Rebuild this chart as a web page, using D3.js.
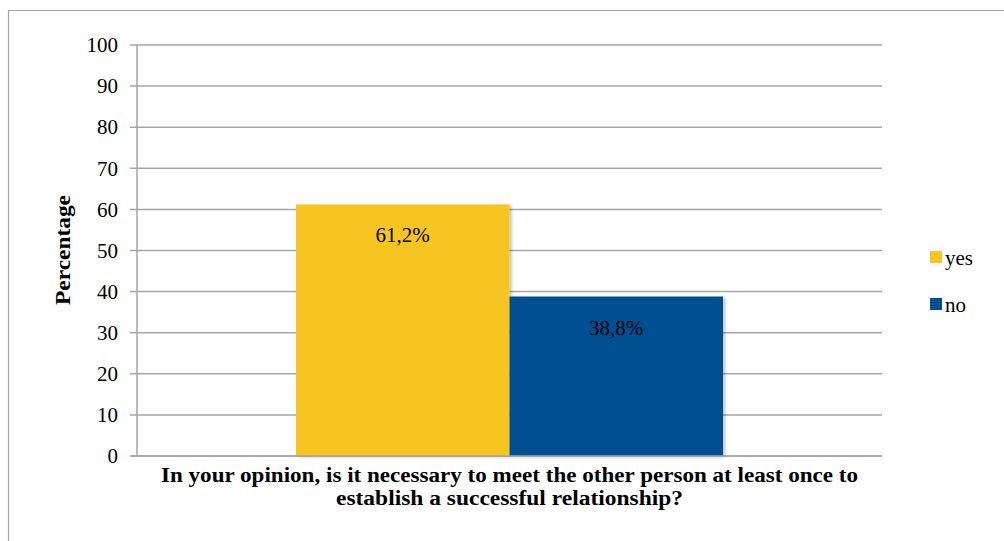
<!DOCTYPE html>
<html><head><meta charset="utf-8">
<script src="https://cdn.jsdelivr.net/npm/d3@7"></script>
<style>body{margin:0;background:#fff;}svg{display:block;}</style>
</head><body>
<svg id="c" width="1004" height="541"></svg>
<script>
const categories = ["In your opinion, is it necessary to meet the other person at least once to establish a successful relationship?"];
const seriesNames = ["yes", "no"];
const seriesValues = [61.2, 38.8];
const seriesLabels = ["61,2%", "38,8%"];
const seriesColors = ["#F6C522", "#044F93"];
const yTicks = [0,10,20,30,40,50,60,70,80,90,100];
const titleLines = ["In your opinion, is it necessary to meet the other person at least once to", "establish a successful relationship?"];
const yLabel = "Percentage";

(function(){
const svg = d3.select("#c");
const serif = "'Liberation Serif', 'DejaVu Serif', serif";

// outer frame
svg.append("path").attr("d","M8.5,541 V10.5 H1004").attr("fill","none").attr("stroke","#a3a3a3").attr("stroke-width",1.2);

const pL = 137, pR = 882, pT = 45, pB = 456;
const y = d3.scaleLinear().domain([0,100]).range([pB, pT]);
const x0 = d3.scaleBand().domain(categories).range([pL, pR]).paddingInner(0).paddingOuter(0.3724);
const x1 = d3.scaleBand().domain(seriesNames).range([0, x0.bandwidth()]);

// grid
svg.append("g").selectAll("line").data(yTicks).join("line")
  .attr("x1", pL-7).attr("x2", pR)
  .attr("y1", d=>y(d)).attr("y2", d=>y(d))
  .attr("stroke","#a6a6a6").attr("stroke-width",1.5);

// axis
const yAxis = d3.axisLeft(y).tickValues(yTicks).tickSize(0).tickPadding(19);
const ag = svg.append("g").attr("transform",`translate(${pL},0)`).call(yAxis);
ag.select(".domain").remove();
ag.selectAll("text").attr("font-family",serif).attr("font-size",21).attr("fill","#000");
svg.append("line").attr("x1",pL).attr("x2",pL).attr("y1",pT).attr("y2",pB)
  .attr("stroke","#a6a6a6").attr("stroke-width",1.5);

// shadow filter
const defs = svg.append("defs");
const f = defs.append("filter").attr("id","sh").attr("x","-10%").attr("y","-10%").attr("width","130%").attr("height","130%");
f.append("feDropShadow").attr("dx",2).attr("dy",1).attr("stdDeviation",1.5).attr("flood-color","#000").attr("flood-opacity",0.25);

const data = seriesNames.map((s,i)=>({s, v:seriesValues[i], lab:seriesLabels[i], c:seriesColors[i]}));
const g = svg.append("g").attr("transform",`translate(${x0(categories[0])},0)`);
g.selectAll("rect").data(data).join("rect")
  .attr("x", d=>x1(d.s)).attr("width", x1.bandwidth())
  .attr("y", d=>y(d.v)).attr("height", d=>y(0)-y(d.v))
  .attr("fill", d=>d.c).attr("filter","url(#sh)");
// redraw baseline over bars
svg.append("line").attr("x1",pL-7).attr("x2",pR).attr("y1",y(0)).attr("y2",y(0))
  .attr("stroke","#a6a6a6").attr("stroke-width",1.5);

g.selectAll("text.lab").data(data).join("text").attr("class","lab")
  .attr("x", d=>x1(d.s)+x1.bandwidth()/2).attr("y", d=>y(d.v)+38)
  .attr("text-anchor","middle").attr("font-family",serif).attr("font-size",21).attr("fill","#000")
  .text(d=>d.lab);

// title
const cx = (pL+pR)/2;
svg.append("text").attr("x",cx).attr("y",482).attr("text-anchor","middle")
  .attr("font-family",serif).attr("font-weight","bold").attr("font-size",20)
  .attr("textLength",697).attr("lengthAdjust","spacingAndGlyphs").text(titleLines[0]);
svg.append("text").attr("x",cx).attr("y",505).attr("text-anchor","middle")
  .attr("font-family",serif).attr("font-weight","bold").attr("font-size",20)
  .attr("textLength",347).attr("lengthAdjust","spacingAndGlyphs").text(titleLines[1]);

// y label
svg.append("text").attr("transform","translate(70,250) rotate(-90)").attr("text-anchor","middle")
  .attr("font-family",serif).attr("font-weight","bold").attr("font-size",20)
  .attr("textLength",110).attr("lengthAdjust","spacingAndGlyphs").text(yLabel);

// legend
const lg = svg.append("g").selectAll("g").data(data).join("g")
  .attr("transform",(d,i)=>`translate(930,${251+i*47})`);
lg.append("rect").attr("width",12).attr("height",12).attr("fill",d=>d.c);
lg.append("text").attr("x",15).attr("y",14).attr("font-family",serif).attr("font-size",21).text(d=>d.s);
})();
</script>
</body></html>
